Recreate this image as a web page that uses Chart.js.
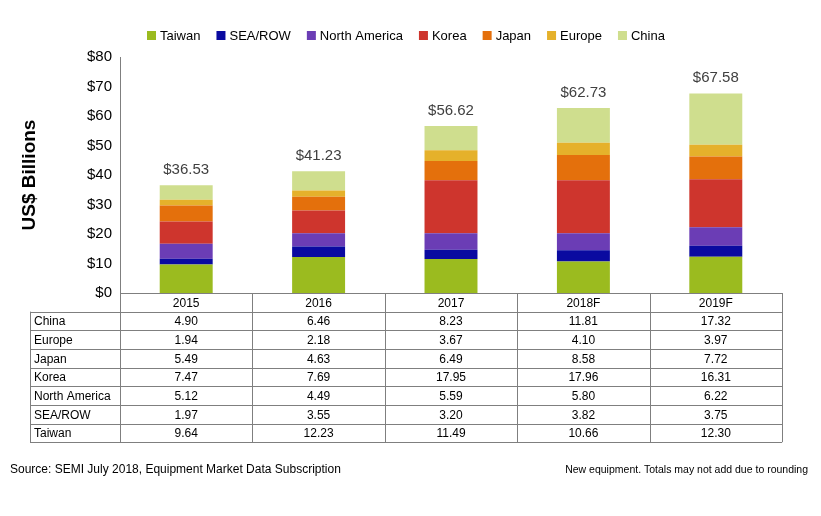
<!DOCTYPE html>
<html><head><meta charset="utf-8">
<script src="https://cdn.jsdelivr.net/npm/chart.js@4"></script>
<style>html,body{margin:0;padding:0;background:#fff}</style>
</head><body>
<div style="width:821px;height:516px;position:relative"><canvas id="c" width="821" height="516"></canvas></div>
<script>
const categories = ["2015","2016","2017","2018F","2019F"];
const taiwan = [9.64,12.23,11.49,10.66,12.30];
const seaRow = [1.97,3.55,3.20,3.82,3.75];
const northAmerica = [5.12,4.49,5.59,5.80,6.22];
const korea = [7.47,7.69,17.95,17.96,16.31];
const japan = [5.49,4.63,6.49,8.58,7.72];
const europe = [1.94,2.18,3.67,4.10,3.97];
const china = [4.90,6.46,8.23,11.81,17.32];
const totals = ["$36.53","$41.23","$56.62","$62.73","$67.58"];
const yTicks = [0,10,20,30,40,50,60,70,80];

const series = [
  {label:"Taiwan", data:taiwan, backgroundColor:"#9BBB1F"},
  {label:"SEA/ROW", data:seaRow, backgroundColor:"#0A0AA0"},
  {label:"North America", data:northAmerica, backgroundColor:"#6B3DB5"},
  {label:"Korea", data:korea, backgroundColor:"#CE352D"},
  {label:"Japan", data:japan, backgroundColor:"#E4700C"},
  {label:"Europe", data:europe, backgroundColor:"#E5B12B"},
  {label:"China", data:china, backgroundColor:"#CFDE8E"}
];
const tableOrder = ["China","Europe","Japan","Korea","North America","SEA/ROW","Taiwan"];

const extras = {
  id:"extras",
  afterDraw(chart){
    const ctx = chart.ctx, x = chart.scales.x, y = chart.scales.y;
    ctx.save();
    // legend
    ctx.font = "13px Arial"; ctx.textBaseline = "middle";
    let lx = 147;
    series.forEach(s=>{
      ctx.fillStyle = s.backgroundColor; ctx.fillRect(lx, 31, 9, 9);
      ctx.fillStyle = "#000"; ctx.textAlign="left";
      ctx.fillText(s.label, lx+13, 36);
      lx += 13 + ctx.measureText(s.label).width + 16;
    });
    // totals
    ctx.font = "15px Arial"; ctx.fillStyle="#404040"; ctx.textAlign="center"; ctx.textBaseline="bottom";
    categories.forEach((c,i)=>{
      const sum = series.reduce((a,s)=>a+s.data[i],0);
      ctx.fillText(totals[i], x.getPixelForValue(i), y.getPixelForValue(sum)-8);
    });
    // table
    const top = chart.chartArea.bottom, rowH = 18.65, nRows = tableOrder.length;
    const half = (x.getPixelForValue(1)-x.getPixelForValue(0))/2;
    const left = x.getPixelForValue(0)-half, right = x.getPixelForValue(categories.length-1)+half;
    const labelLeft = 30, bottom = top + rowH*(nRows+1);
    ctx.strokeStyle="#7f7f7f"; ctx.lineWidth=1;
    ctx.beginPath();
    ctx.moveTo(left, top+0.5); ctx.lineTo(right, top+0.5);
    for(let r=1;r<=nRows+1;r++){const yy=Math.round(top+rowH*r)+0.5; ctx.moveTo(labelLeft,yy); ctx.lineTo(right,yy);}
    for(let i=0;i<=categories.length;i++){const xx=Math.round(left+2*half*i)+0.5; ctx.moveTo(xx,top); ctx.lineTo(xx,bottom);}
    ctx.moveTo(labelLeft+0.5, top+rowH); ctx.lineTo(labelLeft+0.5,bottom);
    ctx.stroke();
    ctx.font="12px Arial"; ctx.fillStyle="#000"; ctx.textBaseline="middle";
    categories.forEach((c,i)=>{ctx.textAlign="center"; ctx.fillText(c, x.getPixelForValue(i), top+rowH/2+1);});
    tableOrder.forEach((name,r)=>{
      const s = series.find(d=>d.label===name), yy = top+rowH*(r+1)+rowH/2+1;
      ctx.textAlign="left"; ctx.fillText(name, labelLeft+4, yy);
      ctx.textAlign="center";
      s.data.forEach((v,i)=>ctx.fillText(v.toFixed(2), x.getPixelForValue(i), yy));
    });
    // footer
    ctx.textAlign="left"; ctx.font="12px Arial"; ctx.fillText("Source: SEMI July 2018, Equipment Market Data Subscription", 10, 470);
    ctx.textAlign="right"; ctx.font="10.5px Arial"; ctx.fillText("New equipment. Totals may not add due to rounding", 808, 470);
    ctx.restore();
  }
};

new Chart(document.getElementById("c"), {
  type:"bar",
  data:{labels:categories, datasets:series.map(s=>({...s, barPercentage:0.4, categoryPercentage:1}))},
  options:{
    responsive:false, animation:false,
    layout:{padding:{left:14, right:39, top:57, bottom:215}},
    plugins:{legend:{display:false}, tooltip:{enabled:false}},
    scales:{
      x:{stacked:true, ticks:{display:false}, grid:{display:false}, border:{color:"#7f7f7f"}},
      y:{stacked:true, min:0, max:80, afterBuildTicks(a){a.ticks=yTicks.map(v=>({value:v}));},
         afterFit(a){a.width=106;},
         ticks:{callback:v=>"$"+v, font:{family:"Arial",size:15}, color:"#000", padding:8},
         grid:{display:false, drawTicks:false}, border:{color:"#7f7f7f"},
         title:{display:true, text:"US$ Billions", font:{family:"Arial",size:19,weight:"bold"}, color:"#000"}}
    }
  },
  plugins:[extras]
});
</script>
</body></html>
